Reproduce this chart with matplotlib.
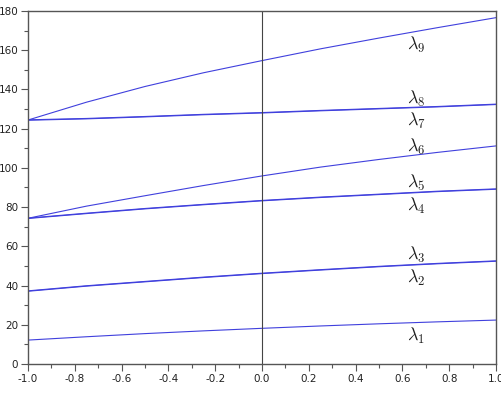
import numpy as np
import matplotlib
matplotlib.use("Agg")
import matplotlib.pyplot as plt

plt.rcParams["mathtext.fontset"] = "cm"
plt.rcParams["axes.unicode_minus"] = False

x = [-1.0, -0.75, -0.5, -0.25, 0.0, 0.25, 0.5, 0.75, 1.0]

lam1 = [12.2, 13.9, 15.5, 16.9, 18.2, 19.4, 20.5, 21.5, 22.4]
lam2 = [37.1, 39.7, 41.9, 44.1, 46.1, 47.9, 49.6, 51.1, 52.4]
lam3 = [37.3, 39.9, 42.1, 44.3, 46.3, 48.1, 49.8, 51.3, 52.6]
lam4 = [74.2, 76.7, 79.1, 81.2, 83.2, 84.9, 86.4, 87.9, 89.1]
lam5 = [74.4, 76.9, 79.3, 81.4, 83.4, 85.1, 86.6, 88.1, 89.3]
lam6 = [74.3, 80.5, 85.8, 91.0, 95.9, 100.4, 104.3, 107.9, 111.2]
lam7 = [124.3, 125.0, 126.0, 127.1, 128.0, 129.1, 130.1, 131.1, 132.3]
lam8 = [124.5, 125.2, 126.2, 127.3, 128.2, 129.3, 130.3, 131.3, 132.5]
lam9 = [124.4, 133.5, 141.5, 148.5, 154.7, 160.7, 166.2, 171.5, 176.6]

curves = [lam1, lam2, lam3, lam4, lam5, lam6, lam7, lam8, lam9]
labels = [r"$\lambda_{%d}$" % (i + 1) for i in range(9)]
label_y = [14.3, 43.7, 55.6, 80.6, 92.1, 110.8, 124.1, 135.1, 162.7]
label_x = 0.66

xticks = [-1.0, -0.8, -0.6, -0.4, -0.2, 0.0, 0.2, 0.4, 0.6, 0.8, 1.0]
xtick_labels = ["-1.0", "-0.8", "-0.6", "-0.4", "-0.2", "0.0", "0.2", "0.4", "0.6", "0.8", "1.0"]

fig = plt.figure(figsize=(5.02, 3.98), dpi=100)
ax = fig.add_axes([0.0558, 0.0854, 0.9322, 0.887])

for ys in curves:
    ax.plot(x, ys, color="#4040dd", lw=0.8)

ax.axvline(0.0, color="#444444", lw=0.8)

for lab, ly in zip(labels, label_y):
    ax.text(label_x, ly, lab, fontsize=13, ha="center", va="center", color="#222222")

ax.set_xlim(-1, 1)
ax.set_ylim(0, 180)
ax.set_xticks(xticks)
ax.set_xticklabels(xtick_labels)
ax.set_xticks(np.arange(-1.0, 1.01, 0.1), minor=True)
ax.set_yticks(np.arange(0, 181, 20))
ax.set_yticks(np.arange(0, 181, 10), minor=True)

for s in ax.spines.values():
    s.set_color("#555555")
    s.set_linewidth(1.0)
ax.tick_params(which="major", length=5, width=0.8, color="#555555",
               labelsize=7.5, labelcolor="#222222", pad=2)
ax.tick_params(which="minor", length=3, width=0.8, color="#555555")

fig.savefig("out.png", dpi=100)
